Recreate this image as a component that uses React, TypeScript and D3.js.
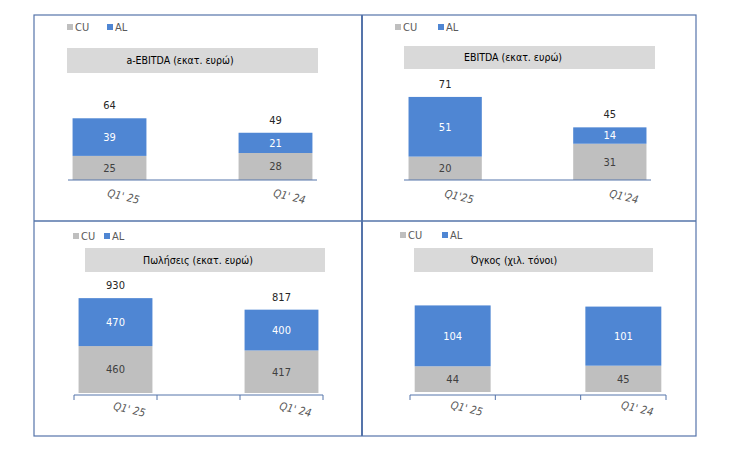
import React from 'react';
import * as d3 from 'd3';

// four small stacked-bar panels (CU / AL)
const panelTitles = [
  'a-EBITDA (εκατ. ευρώ)',
  'EBITDA (εκατ. ευρώ)',
  'Πωλήσεις (εκατ. ευρώ)',
  'Όγκος (χιλ. τόνοι)',
];
const periodLabels = [
  ["Q1' 25", "Q1' 24"],
  ["Q1'25", "Q1'24"],
  ["Q1' 25", "Q1' 24"],
  ["Q1' 25", "Q1' 24"],
];
const cuValues = [
  [25, 28],
  [20, 31],
  [460, 417],
  [44, 45],
];
const alValues = [
  [39, 21],
  [51, 14],
  [470, 400],
  [104, 101],
];
const showTotals = [true, true, true, false];
const seriesNames = ['CU', 'AL'];

const W = 739;
const H = 476;
const CU_COLOR = '#bfbfbf';
const AL_COLOR = '#4f86d3';
const FRAME = '#5574aa';
const FONT = "'DejaVu Sans Condensed', 'DejaVu Sans', Verdana, sans-serif";

// layout of each panel (pixels)
const layouts = [
  { x0: 68, x1: 317, base: 180, top: 112.5, yMax: 70, ticks: false, axisGap: 0,
    legendY: 27, legendX: [67, 107], titleBox: [67, 48, 318, 73], titleX: 180 },
  { x0: 404, x1: 651, base: 180, top: 86.4, yMax: 80, ticks: false, axisGap: 0,
    legendY: 27, legendX: [395, 438], titleBox: [404, 46, 655, 69], titleX: 513 },
  { x0: 74, x1: 323, base: 393, top: 291, yMax: 1000, ticks: true, axisGap: 2,
    legendY: 236, legendX: [73, 104], titleBox: [85, 248, 325, 272], titleX: 198 },
  { x0: 410, x1: 666, base: 392, top: 298.4, yMax: 160, ticks: true, axisGap: 3,
    legendY: 235, legendX: [400, 442], titleBox: [414, 248, 653, 272], titleX: 514 },
];

const Panel = ({ i }: { i: number }) => {
  const L = layouts[i];
  const labels = periodLabels[i];
  // three slots, the middle one is left empty
  const slots = [labels[0], '__gap__', labels[1]];
  const x = d3.scaleBand().domain(slots).range([L.x0, L.x1]).padding(0);
  const y = d3.scaleLinear().domain([0, L.yMax]).range([L.base, L.top]);
  const barW = x.bandwidth() * 0.89;

  const rows = labels.map((lab, j) => ({ lab, cu: cuValues[i][j], al: alValues[i][j] }));
  const stack = d3.stack<any>().keys(['cu', 'al'])(rows);

  const [bx0, by0, bx1, by1] = L.titleBox;
  const tickXs = [...slots.map((s) => x(s) as number), L.x1];

  return (
    <g>
      {/* legend */}
      {seriesNames.map((name, k) => (
        <g key={name} transform={`translate(${L.legendX[k]},${L.legendY})`}>
          <rect x={0} y={-3} width={6} height={6} fill={k === 0 ? CU_COLOR : AL_COLOR} />
          <text x={8} y={0} dy="0.35em" fontSize={11} fill="#595959" fontFamily={FONT}>
            {name}
          </text>
        </g>
      ))}

      {/* title box */}
      <rect x={bx0} y={by0} width={bx1 - bx0} height={by1 - by0} fill="#d9d9d9" />
      <text x={L.titleX} y={(by0 + by1) / 2} dy="0.35em" textAnchor="middle"
        fontSize={10.5} fill="#000" fontFamily={FONT}>
        {panelTitles[i]}
      </text>

      {/* bars */}
      {stack.map((s) => (
        <g key={s.key}>
          {s.map((d, j) => {
            const cx = (x(rows[j].lab) as number) + x.bandwidth() / 2;
            const yt = y(d[1]);
            const yb = y(d[0]);
            const v = d[1] - d[0];
            return (
              <g key={j}>
                <rect x={cx - barW / 2} y={yt} width={barW} height={yb - yt}
                  fill={s.key === 'cu' ? CU_COLOR : AL_COLOR} />
                <text x={cx} y={(yt + yb) / 2} dy="0.35em" textAnchor="middle"
                  fontSize={11} fontFamily={FONT}
                  fill={s.key === 'cu' ? '#404040' : '#ffffff'}>
                  {v}
                </text>
              </g>
            );
          })}
        </g>
      ))}

      {/* totals */}
      {showTotals[i] &&
        rows.map((r, j) => {
          const cx = (x(r.lab) as number) + x.bandwidth() / 2;
          return (
            <text key={j} x={cx} y={y(r.cu + r.al) - 13} dy="0.35em" textAnchor="middle"
              fontSize={11} fill="#262626" fontFamily={FONT}>
              {r.cu + r.al}
            </text>
          );
        })}

      {/* axis */}
      <line x1={L.x0} x2={L.x1} y1={L.base + L.axisGap} y2={L.base + L.axisGap}
        stroke={FRAME} strokeWidth={1} />
      {L.ticks &&
        tickXs.map((tx, k) => (
          <line key={k} x1={tx} x2={tx} y1={L.base + L.axisGap} y2={L.base + L.axisGap + 5}
            stroke={FRAME} strokeWidth={1} />
        ))}
      {labels.map((lab) => {
        const cx = (x(lab) as number) + x.bandwidth() / 2;
        return (
          <text key={lab} transform={`translate(${cx + 14},${L.base + 16.5}) rotate(13)`}
            dy="0.35em" textAnchor="middle" fontSize={11} fontStyle="italic"
            fill="#595959" fontFamily={FONT}>
            {lab}
          </text>
        );
      })}
    </g>
  );
};

export default function App() {
  return (
    <svg width={W} height={H} style={{ position: 'absolute', left: 0, top: 0, background: '#fff' }}>
      <rect x={34} y={15} width={662} height={421} fill="none" stroke={FRAME} strokeWidth={1.2} />
      <line x1={362} x2={362} y1={15} y2={436} stroke={FRAME} strokeWidth={2} />
      <line x1={34} x2={696} y1={221} y2={221} stroke={FRAME} strokeWidth={1.5} />
      {layouts.map((_, i) => (
        <Panel key={i} i={i} />
      ))}
    </svg>
  );
}
